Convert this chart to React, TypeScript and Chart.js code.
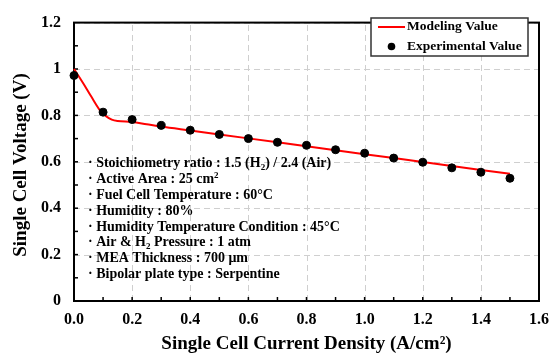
import React, { useEffect, useRef } from "react";
import { Chart, registerables } from "chart.js";

Chart.register(...registerables);

// Experimental data
const currentDensity = [0.0, 0.1, 0.2, 0.3, 0.4, 0.5, 0.6, 0.7, 0.8, 0.9, 1.0, 1.1, 1.2, 1.3, 1.4, 1.5];
const experimentalVoltage = [0.972, 0.814, 0.782, 0.757, 0.736, 0.718, 0.7, 0.684, 0.671, 0.652, 0.637, 0.616, 0.598, 0.574, 0.555, 0.529];

// Modeling curve
const modelCurrent = [0.0, 0.03, 0.06, 0.09, 0.11, 0.13, 0.15, 0.2, 0.25, 0.3, 0.4, 0.5, 0.6, 0.7, 0.8, 0.9, 1.0, 1.1, 1.2, 1.3, 1.4, 1.5];
const modelVoltage = [1.0, 0.942, 0.88, 0.821, 0.797, 0.782, 0.776, 0.772, 0.762, 0.752, 0.735, 0.718, 0.701, 0.684, 0.667, 0.65, 0.633, 0.616, 0.599, 0.582, 0.565, 0.548];

const seriesLabels = ["Modeling Value", "Experimental Value"];
const xTitle = "Single Cell Current Density (A/cm\u00B2)";
const yTitle = "Single Cell Voltage (V)";

// Annotation lines: [text, mode] segments, mode: "n" normal, "sub", "sup"
const conditionLines: [string, string][][] = [
  [["\u00B7 Stoichiometry ratio : 1.5 (H", "n"], ["2", "sub"], [") / 2.4 (Air)", "n"]],
  [["\u00B7 Active Area : 25 cm", "n"], ["2", "sup"]],
  [["\u00B7 Fuel Cell Temperature : 60\u00B0C", "n"]],
  [["\u00B7 Humidity : 80%", "n"]],
  [["\u00B7 Humidity Temperature Condition : 45\u00B0C", "n"]],
  [["\u00B7 Air & H", "n"], ["2", "sub"], [" Pressure : 1 atm", "n"]],
  [["\u00B7 MEA Thickness : 700 \u03BCm", "n"]],
  [["\u00B7 Bipolar plate type : Serpentine", "n"]],
];

const FONT = "'Liberation Serif', 'Times New Roman', serif";

const decorPlugin = {
  id: "decor",
  beforeDatasetsDraw(chart: any) {
    const { ctx, chartArea } = chart;
    const xs = chart.scales.x;
    const ys = chart.scales.y;
    ctx.save();
    // dashed grid
    ctx.strokeStyle = "#cfcfcf";
    ctx.lineWidth = 1;
    ctx.setLineDash([6, 4]);
    xs.ticks.forEach((t: any) => {
      const px = Math.round(xs.getPixelForValue(t.value)) + 0.5;
      ctx.beginPath();
      ctx.moveTo(px, chartArea.bottom);
      ctx.lineTo(px, chartArea.top);
      ctx.stroke();
    });
    ys.ticks.forEach((t: any) => {
      const py = Math.round(ys.getPixelForValue(t.value)) + 0.5;
      ctx.beginPath();
      ctx.moveTo(chartArea.left, py);
      ctx.lineTo(chartArea.right, py);
      ctx.stroke();
    });
    ctx.setLineDash([]);
    // inward ticks
    ctx.strokeStyle = "#000";
    ctx.lineWidth = 1.5;
    for (let i = 1; i < 16; i++) {
      const px = xs.getPixelForValue(i / 10);
      ctx.beginPath();
      ctx.moveTo(px, chartArea.bottom);
      ctx.lineTo(px, chartArea.bottom - 4);
      ctx.stroke();
    }
    for (let i = 1; i < 12; i++) {
      const py = ys.getPixelForValue(i / 10);
      ctx.beginPath();
      ctx.moveTo(chartArea.left, py);
      ctx.lineTo(chartArea.left + 4, py);
      ctx.stroke();
    }
    // plot border
    ctx.lineWidth = 2;
    ctx.strokeRect(chartArea.left, chartArea.top, chartArea.right - chartArea.left, chartArea.bottom - chartArea.top);
    ctx.restore();
  },
  afterDatasetsDraw(chart: any) {
    const { ctx, chartArea } = chart;
    ctx.save();
    // condition text
    const fs = 14;
    let y = 163.5;
    ctx.fillStyle = "#000";
    ctx.textBaseline = "middle";
    ctx.textAlign = "left";
    for (const line of conditionLines) {
      let x = chartArea.left + 14;
      for (const [t, mode] of line) {
        if (mode === "n") {
          ctx.font = `bold ${fs}px ${FONT}`;
          ctx.fillText(t, x, y);
        } else {
          ctx.font = `bold ${Math.round(fs * 0.65)}px ${FONT}`;
          ctx.fillText(t, x, mode === "sub" ? y + 4 : y - 4);
        }
        x += ctx.measureText(t).width;
      }
      y += 15.86;
    }
    // legend box
    const lx = 371, ly = 18, lw = 157, lh = 38;
    ctx.fillStyle = "#fff";
    ctx.fillRect(lx, ly, lw, lh);
    ctx.strokeStyle = "#333";
    ctx.lineWidth = 1.5;
    ctx.strokeRect(lx, ly, lw, lh);
    const ds = chart.data.datasets;
    ctx.strokeStyle = ds[0].borderColor;
    ctx.lineWidth = 2;
    ctx.beginPath();
    ctx.moveTo(378, 27);
    ctx.lineTo(405, 27);
    ctx.stroke();
    ctx.fillStyle = "#000";
    ctx.beginPath();
    ctx.arc(391.5, 46.5, 3.8, 0, Math.PI * 2);
    ctx.fill();
    ctx.font = `bold 13.5px ${FONT}`;
    ctx.textBaseline = "middle";
    ctx.fillText(ds[0].label, 407, 27);
    ctx.fillText(ds[1].label, 407, 46.5);
    ctx.restore();
  },
  afterDraw(chart: any) {
    const { ctx } = chart;
    ctx.save();
    ctx.translate(21, 165);
    ctx.rotate(-Math.PI / 2);
    ctx.font = `bold 19px ${FONT}`;
    ctx.fillStyle = "#000";
    ctx.textAlign = "center";
    ctx.textBaseline = "middle";
    ctx.fillText(yTitle, 0, 0);
    ctx.restore();
  },
};

export default function App() {
  const canvasRef = useRef<HTMLCanvasElement | null>(null);

  useEffect(() => {
    if (!canvasRef.current) return;
    const chart = new Chart(canvasRef.current, {
      type: "scatter",
      data: {
        datasets: [
          {
            type: "line",
            label: seriesLabels[0],
            data: modelCurrent.map((x, i) => ({ x, y: modelVoltage[i] })),
            borderColor: "#ff0000",
            borderWidth: 2,
            pointRadius: 0,
            cubicInterpolationMode: "monotone",
            fill: false,
            clip: false,
            order: 2,
          } as any,
          {
            type: "scatter",
            label: seriesLabels[1],
            data: currentDensity.map((x, i) => ({ x, y: experimentalVoltage[i] })),
            backgroundColor: "#000",
            borderColor: "#000",
            pointRadius: 4,
            clip: false,
            order: 1,
          } as any,
        ],
      },
      options: {
        animation: false,
        responsive: false,
        maintainAspectRatio: false,
        layout: { padding: { top: 12, right: 20, left: 0, bottom: 0 } },
        plugins: { legend: { display: false }, tooltip: { enabled: false } },
        scales: {
          x: {
            type: "linear",
            min: 0,
            max: 1.6,
            afterFit: (s: any) => { s.height = 58; },
            ticks: {
              stepSize: 0.2,
              padding: 9,
              color: "#000",
              font: { family: FONT, size: 16, weight: "bold" },
              callback: (v: any) => Number(v).toFixed(1),
            },
            grid: { display: false, drawTicks: false },
            border: { display: false },
            title: {
              display: true,
              text: xTitle,
              color: "#000",
              font: { family: FONT, size: 19, weight: "bold" },
              padding: { top: 6 },
            },
          },
          y: {
            type: "linear",
            min: 0,
            max: 1.2,
            afterFit: (s: any) => { s.width = 74; },
            ticks: {
              stepSize: 0.2,
              padding: 13,
              color: "#000",
              font: { family: FONT, size: 16, weight: "bold" },
              callback: (v: any) => {
                const n = Math.round(Number(v) * 10) / 10;
                return Number.isInteger(n) ? String(n) : n.toFixed(1);
              },
            },
            grid: { display: false, drawTicks: false },
            border: { display: false },
          },
        },
      },
      plugins: [decorPlugin],
    } as any);
    return () => chart.destroy();
  }, []);

  return (
    <div style={{ position: "fixed", left: 0, top: 0, width: 559, height: 359, background: "#fff" }}>
      <canvas ref={canvasRef} width={559} height={359} style={{ width: 559, height: 359 }} />
    </div>
  );
}
